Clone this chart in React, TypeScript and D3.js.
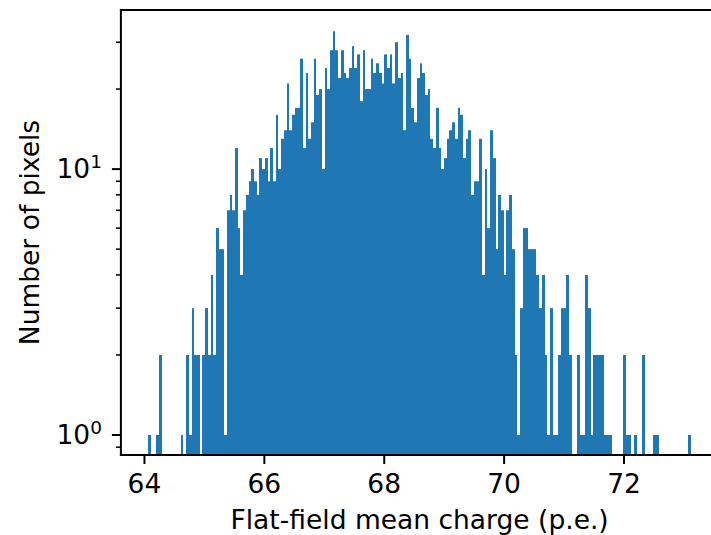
import React from "react";
import * as d3 from "d3";

// Histogram: 200 equal bins between binStart and binEnd
const binStart = 64.06;
const binEnd = 73.12;
const counts: number[] = [
  1, 0, 0, 1, 2, 0, 0, 0, 0, 0,
  0, 0, 1, 0, 2, 1, 3, 2, 2, 0,
  2, 3, 2, 4, 2, 6, 5, 5, 1, 7,
  8, 7, 12, 6, 4, 7, 8, 9, 10, 9,
  8, 11, 10, 11, 9, 12, 9, 16, 10, 13,
  14, 21, 14, 16, 17, 17, 26, 12, 23, 13,
  15, 26, 19, 20, 10, 24, 20, 28, 33, 28,
  22, 28, 23, 22, 24, 29, 24, 27, 18, 28,
  20, 20, 26, 23, 25, 23, 21, 27, 24, 27,
  21, 30, 22, 23, 14, 32, 26, 17, 15, 22,
  25, 23, 19, 20, 13, 12, 17, 12, 10, 11,
  13, 14, 15, 13, 17, 16, 11, 13, 14, 8,
  9, 9, 13, 4, 10, 6, 14, 11, 5, 8,
  7, 4, 7, 8, 5, 2, 1, 3, 6, 6,
  5, 5, 5, 4, 3, 4, 2, 1, 3, 1,
  1, 2, 3, 3, 4, 2, 0, 0, 2, 1,
  1, 4, 3, 1, 2, 2, 2, 2, 1, 1,
  1, 0, 0, 0, 0, 2, 1, 1, 0, 1,
  0, 0, 2, 0, 0, 0, 1, 1, 0, 0,
  0, 0, 0, 0, 0, 0, 0, 0, 0, 1,
];

const xDomain: [number, number] = [63.607, 73.573];
const yDomain: [number, number] = [0.841, 39.66];
const xTicks = [64, 66, 68, 70, 72];
const yMajorTicks = [1, 10];
const yMajorExponents = ["0", "1"];
const yMinorTicks = [0.9, 2, 3, 4, 5, 6, 7, 8, 9, 20, 30];
const xLabel = "Flat-field mean charge (p.e.)";
const yLabel = "Number of pixels";

const W = 711;
const H = 535;
const plotLeft = 120.9;
const plotRight = 718.3;
const plotTop = 10;
const plotBottom = 455;
const color = "#1f77b4";
const font = "DejaVu Sans";
const fs = 26.5;

export default function App() {
  const x = d3.scaleLinear().domain(xDomain).range([plotLeft, plotRight]);
  const y = d3.scaleLog().domain(yDomain).range([plotBottom, plotTop]);
  const nb = counts.length;
  const binW = (binEnd - binStart) / nb;
  const edges = d3.range(nb + 1).map((i) => binStart + i * binW);

  const majorLen = 9;
  const minorLen = 5;

  return (
    <svg
      width={W}
      height={H}
      style={{ position: "absolute", left: 0, top: 0, background: "#fff" }}
      fontFamily={font}
    >
      <rect x={0} y={0} width={W} height={H} fill="#fff" />
      <defs>
        <clipPath id="plotclip">
          <rect x={plotLeft} y={plotTop} width={plotRight - plotLeft} height={plotBottom - plotTop} />
        </clipPath>
      </defs>
      <g clipPath="url(#plotclip)">
        {counts.map((c, i) => {
          if (c <= 0) return null;
          const x0 = Math.round(x(edges[i]));
          const x1 = Math.round(x(edges[i + 1]));
          const yt = y(c);
          return (
            <rect
              key={i}
              x={x0}
              y={yt}
              width={x1 - x0}
              height={plotBottom - yt + 2}
              fill={color}
            />
          );
        })}
      </g>

      {/* spines */}
      <line x1={plotLeft} x2={plotLeft} y1={plotTop} y2={plotBottom} stroke="#000" strokeWidth={2} strokeLinecap="square" />
      <line x1={plotLeft} x2={plotRight} y1={plotTop} y2={plotTop} stroke="#000" strokeWidth={2} strokeLinecap="square" />
      <line x1={plotLeft} x2={plotRight} y1={plotBottom} y2={plotBottom} stroke="#000" strokeWidth={2} strokeLinecap="square" />
      <line x1={plotRight} x2={plotRight} y1={plotTop} y2={plotBottom} stroke="#000" strokeWidth={2} />

      {/* x ticks */}
      {xTicks.map((t) => (
        <g key={t}>
          <line x1={x(t)} x2={x(t)} y1={plotBottom} y2={plotBottom + majorLen} stroke="#000" strokeWidth={2} />
          <text x={x(t)} y={493} textAnchor="middle" fontSize={fs} fill="#000">
            {t}
          </text>
        </g>
      ))}

      {/* y major ticks */}
      {yMajorTicks.map((t, i) => (
        <g key={t}>
          <line x1={plotLeft - majorLen} x2={plotLeft} y1={y(t)} y2={y(t)} stroke="#000" strokeWidth={2} />
          <text x={102} y={y(t) + 9} textAnchor="end" fontSize={fs} fill="#000">
            10
            <tspan dy={-10} fontSize={18.5}>
              {yMajorExponents[i]}
            </tspan>
          </text>
        </g>
      ))}
      {/* y minor ticks */}
      {yMinorTicks.map((t) => (
        <line key={t} x1={plotLeft - minorLen} x2={plotLeft} y1={y(t)} y2={y(t)} stroke="#000" strokeWidth={1.5} />
      ))}

      {/* axis labels */}
      <text x={(plotLeft + plotRight) / 2} y={529} textAnchor="middle" fontSize={fs} fill="#000">
        {xLabel}
      </text>
      <text
        transform={`translate(38.5, ${(plotTop + plotBottom) / 2}) rotate(-90)`}
        textAnchor="middle"
        fontSize={fs}
        fill="#000"
      >
        {yLabel}
      </text>
    </svg>
  );
}
